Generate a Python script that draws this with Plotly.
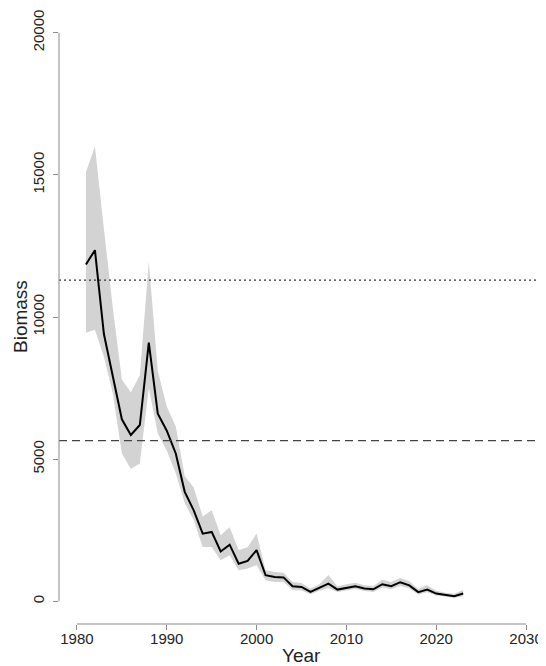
import plotly.graph_objects as go

years = list(range(1981, 2024))
biomass = [11850, 12350, 9400, 7900, 6400, 5850, 6200, 9100, 6600, 6000,
           5200, 3850, 3200, 2380, 2440, 1750, 1990, 1320, 1420, 1800,
           915, 850, 840, 530, 505, 330, 480, 620, 410, 480,
           530, 450, 420, 600, 530, 670, 560, 320, 410, 270,
           210, 175, 270]
upper = [15100, 16000, 13100, 10300, 7800, 7350, 7950, 11950, 8100, 6850,
         6150, 4400, 4000, 2980, 3200, 2320, 2600, 1800, 1900, 2380,
         1090, 1030, 1000, 680, 640, 450, 600, 920, 520, 600,
         650, 560, 540, 760, 680, 820, 700, 430, 560, 370,
         300, 260, 400]
lower = [9450, 9550, 8600, 7300, 5200, 4650, 4850, 7500, 5900, 5300,
         4500, 3450, 2850, 1910, 1910, 1440, 1620, 1090, 1150, 1270,
         740, 680, 680, 400, 380, 250, 370, 460, 330, 390,
         430, 360, 330, 480, 420, 540, 450, 240, 320, 200,
         150, 120, 180]
ref_upper = 11300
ref_lower = 5650
x_ticks = [1980, 1990, 2000, 2010, 2020, 2030]
y_ticks = [0, 5000, 10000, 15000, 20000]
y_ticktext = ["0", "5000", "10000", "15000", "20000"]

FONT = "Liberation Sans, Arial, Helvetica, sans-serif"
AX = "#8a8a8a"
TXT = "#222222"

fig = go.Figure()
fig.add_trace(go.Scatter(x=years, y=lower, mode="lines", line=dict(width=0),
                         showlegend=False, hoverinfo="skip"))
fig.add_trace(go.Scatter(x=years, y=upper, mode="lines", line=dict(width=0),
                         fill="tonexty", fillcolor="#d3d3d3",
                         showlegend=False, hoverinfo="skip"))
fig.add_trace(go.Scatter(x=years, y=biomass, mode="lines",
                         line=dict(color="black", width=2), showlegend=False))

# reference lines (full width, like abline)
fig.add_shape(type="line", xref="paper", x0=0, x1=1, yref="y", y0=ref_upper, y1=ref_upper,
              line=dict(color="#333333", width=1.2, dash="2px,3px"))
fig.add_shape(type="line", xref="paper", x0=0, x1=1, yref="y", y0=ref_lower, y1=ref_lower,
              line=dict(color="#444444", width=1.2, dash="8px,5px"))

# R-style axis lines spanning only the tick range
fig.add_shape(type="line", xref="x", x0=x_ticks[0], x1=x_ticks[-1], yref="paper", y0=0, y1=0,
              line=dict(color=AX, width=1))
fig.add_shape(type="line", xref="paper", x0=0, x1=0, yref="y", y0=y_ticks[0], y1=y_ticks[-1],
              line=dict(color=AX, width=1))

# axis titles as annotations for exact placement
fig.add_annotation(text="Year", xref="paper", x=0.5, yref="paper", y=0, yshift=-31,
                   xanchor="center", yanchor="middle", showarrow=False,
                   font=dict(size=19, color=TXT, family=FONT))
fig.add_annotation(text="Biomass", xref="paper", x=0, xshift=-39, yref="paper", y=0.5,
                   xanchor="center", yanchor="middle", showarrow=False, textangle=-90,
                   font=dict(size=19, color=TXT, family=FONT))

# page body has an 8px margin, so the figure is sized/offset to compensate
fig.update_layout(
    width=538, height=658,
    margin=dict(l=51, r=2, t=2, b=42, autoexpand=False),
    paper_bgcolor="white", plot_bgcolor="white",
    font=dict(family=FONT, color=TXT),
    xaxis=dict(range=[1978, 2032], tickvals=x_ticks, ticks="outside", ticklen=5,
               tickcolor=AX, showgrid=False, zeroline=False, showline=False,
               automargin=False, ticklabelstandoff=-4,
               tickfont=dict(size=15, color=TXT)),
    yaxis=dict(range=[-800, 20800], tickvals=y_ticks, ticktext=y_ticktext,
               ticks="outside", ticklen=5,
               tickcolor=AX, showgrid=False, zeroline=False, showline=False,
               automargin=False, tickangle=-90, ticklabelstandoff=3,
               tickfont=dict(size=15, color=TXT)),
)

fig.write_html("out.html")
